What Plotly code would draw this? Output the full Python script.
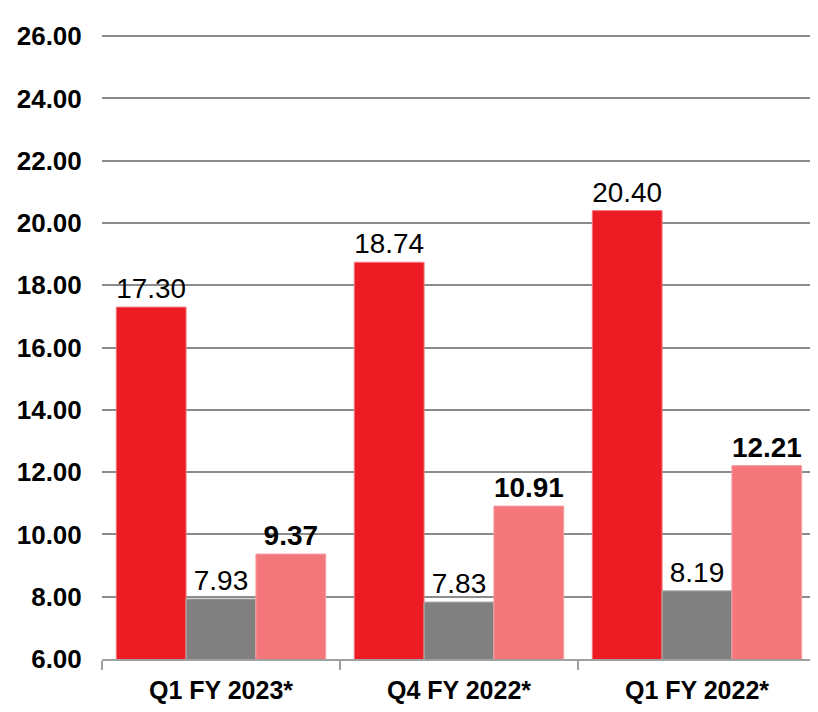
import plotly.graph_objects as go

categories = ["Q1 FY 2023*", "Q4 FY 2022*", "Q1 FY 2022*"]
series_a = [17.30, 18.74, 20.40]
series_b = [7.93, 7.83, 8.19]
series_c = [9.37, 10.91, 12.21]
y_ticks = [6, 8, 10, 12, 14, 16, 18, 20, 22, 24, 26]

font_family = "Liberation Sans, Arial, sans-serif"

fig = go.Figure()
fig.add_trace(go.Bar(
    x=categories, y=series_a, name="A",
    marker=dict(color="#ED1C24", line=dict(color="#F27A80", width=1)),
    texttemplate="%{y:.2f}", textposition="outside",
    textfont=dict(size=28, color="#000000", family=font_family),
    cliponaxis=False,
))
fig.add_trace(go.Bar(
    x=categories, y=series_b, name="B",
    marker=dict(color="#808080", line=dict(color="#B0B0B0", width=1)),
    texttemplate="%{y:.2f}", textposition="outside",
    textfont=dict(size=28, color="#000000", family=font_family),
    cliponaxis=False,
))
fig.add_trace(go.Bar(
    x=categories, y=series_c, name="C",
    marker=dict(color="#F4777B", line=dict(color="#F6A0A3", width=1)),
    texttemplate="<b>%{y:.2f}</b>", textposition="outside",
    textfont=dict(size=28, color="#000000", family=font_family),
    cliponaxis=False,
))

fig.update_layout(
    width=818, height=712,
    margin=dict(l=94, r=10, t=26, b=61),
    paper_bgcolor="white", plot_bgcolor="white",
    barmode="group", bargap=0.12, bargroupgap=0,
    showlegend=False,
    font=dict(family=font_family, color="#000000"),
)
fig.update_yaxes(
    range=[6, 26.07], tickvals=y_ticks,
    ticktext=[f"{v:.2f}" for v in y_ticks],
    tickfont=dict(size=26, family=font_family, color="#000000", weight="bold"),
    showgrid=True, gridcolor="#8C8C8C", gridwidth=1.5,
    zeroline=False, showline=False, automargin=False,
    ticks="outside", ticklen=14, tickcolor="rgba(0,0,0,0)",
)
fig.update_xaxes(
    tickfont=dict(size=25, family=font_family, color="#000000", weight="bold"),
    showline=True, linecolor="#A0A0A0", linewidth=2,
    ticks="outside", tickson="boundaries", ticklen=9, tickcolor="#A0A0A0", tickwidth=2,
    ticklabelstandoff=8,
    showgrid=False, automargin=False,
)

fig.write_html("out.html")
